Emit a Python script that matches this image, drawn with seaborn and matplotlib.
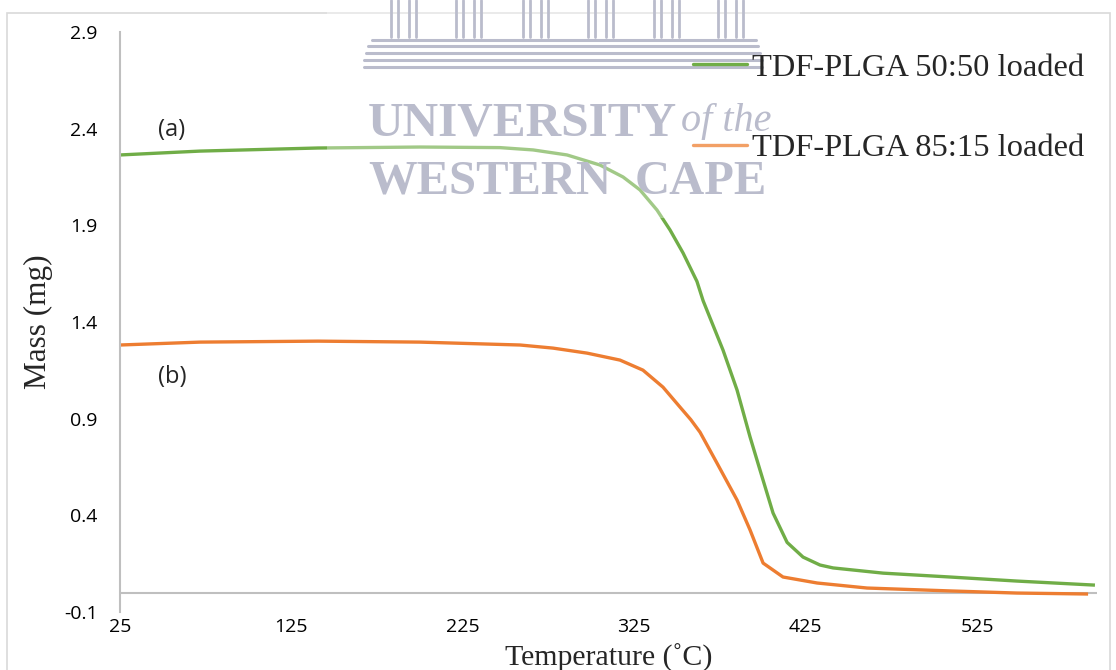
import numpy as np
import pandas as pd
import matplotlib
matplotlib.use("Agg")
import matplotlib.pyplot as plt
import seaborn as sns
from matplotlib.patches import Rectangle
from matplotlib.lines import Line2D

# ---------------- data ----------------
temp_a = [25, 71.7, 140.5, 200, 246.7, 266, 285.8, 305, 318.5, 328.4, 338.3, 345.9,
          353.5, 361.6, 365.2, 376.8, 385, 392.6, 398.4, 406, 414.2, 423.5, 433.4,
          441, 470.2, 509.2, 548.3, 593.8]
mass_a = [2.264, 2.284, 2.300, 2.305, 2.302, 2.290, 2.264, 2.212, 2.150, 2.083, 1.979, 1.876,
          1.757, 1.610, 1.510, 1.255, 1.048, 0.805, 0.634, 0.412, 0.260, 0.184, 0.143,
          0.128, 0.101, 0.081, 0.060, 0.039]

temp_b = [25, 71.7, 140.5, 200, 258.4, 277.6, 297.5, 316.7, 330.1, 341.8, 351.7, 358.0, 363.4,
          373.3, 385.0, 392.6, 400.2, 411.8, 431.7, 460.8, 509.2, 548.3, 589.8]
mass_b = [1.281, 1.296, 1.301, 1.296, 1.281, 1.265, 1.239, 1.203, 1.151, 1.063, 0.960, 0.895, 0.830,
          0.670, 0.479, 0.324, 0.153, 0.081, 0.050, 0.024, 0.009, -0.002, -0.007]

series_names = ["TDF-PLGA 50:50 loaded", "TDF-PLGA 85:15 loaded"]
x_ticks = [25, 125, 225, 325, 425, 525]
y_ticks = [-0.1, 0.4, 0.9, 1.4, 1.9, 2.4, 2.9]
y_tick_labels = ["-0.1", "0.4", "0.9", "1.4", "1.9", "2.4", "2.9"]

df = pd.concat([
    pd.DataFrame({"Temperature": temp_a, "Mass": mass_a, "Sample": series_names[0]}),
    pd.DataFrame({"Temperature": temp_b, "Mass": mass_b, "Sample": series_names[1]}),
])

# ---------------- style ----------------
sns.set_theme(style="white")
plt.rcParams["font.family"] = ["Open Sans", "DejaVu Sans"]
SERIF = ["Liberation Serif", "DejaVu Serif"]

W, H = 1116, 670
fig = plt.figure(figsize=(W / 100, H / 100), dpi=100)
ax = fig.add_axes([120 / W, 1 - 612 / H, (1097 - 120) / W, (612 - 32) / H])

GREEN = "#70AD47"
ORANGE = "#ED7D31"
AXIS_GRAY = "#BFBFBF"
WM = "#BABCCC"

# figure border
fig.patches.append(Rectangle((7 / W, -0.01), (1110 - 7) / W, (1 - 13 / H) + 0.01,
                             transform=fig.transFigure, fill=False,
                             edgecolor="#D9D9D9", linewidth=1.2, zorder=0))

sns.lineplot(data=df, x="Temperature", y="Mass", hue="Sample",
             palette=[GREEN, ORANGE], linewidth=2.4, ax=ax, legend=False,
             sort=False, estimator=None)
for ln in ax.lines:
    ln.set_solid_joinstyle("round")
    ln.set_solid_capstyle("butt")

ax.set_xlim(25, 595)
ax.set_ylim(-0.1, 2.9)
ax.set_xticks(x_ticks)
ax.set_xticklabels([str(t) for t in x_ticks], fontsize=14, color="black")
ax.set_yticks(y_ticks)
ax.set_yticklabels(y_tick_labels, fontsize=14, color="black")
ax.tick_params(axis="both", length=0)
ax.tick_params(axis="y", pad=16)
ax.tick_params(axis="x", pad=4)

for s in ["top", "right", "bottom"]:
    ax.spines[s].set_visible(False)
ax.spines["left"].set_color(AXIS_GRAY)
ax.spines["left"].set_linewidth(1.5)
ax.axhline(0, color=AXIS_GRAY, linewidth=1.5, zorder=1)

ax.set_xlabel("Temperature (˚C)", fontsize=21.5, family=SERIF, labelpad=6)
ax.set_ylabel("Mass (mg)", fontsize=22.5, family=SERIF, labelpad=8)

fig.text(172 / W, 1 - 130 / H, "(a)", fontsize=17, ha="center", va="center")
fig.text(172 / W, 1 - 377 / H, "(b)", fontsize=17, ha="center", va="center")

# watermark (University of the Western Cape), semi-transparent over the plot
fig.patches.append(Rectangle((327 / W, 1 - 218 / H), (800 - 327) / W, 218 / H,
                             transform=fig.transFigure, facecolor="white",
                             edgecolor="none", alpha=0.35, zorder=4))
fig.text(368 / W, 1 - 123 / H, "UNIVERSITY", color=WM, fontsize=35.5, family=SERIF,
         weight="bold", ha="left", va="center", zorder=5)
fig.text(681 / W, 1 - 121 / H, "of the", color=WM, fontsize=29, family=SERIF,
         style="italic", ha="left", va="center", zorder=5)
fig.text(368 / W, 1 - 182 / H, "WESTERN", color=WM, fontsize=35, family=SERIF,
         weight="bold", ha="left", va="center", zorder=5)
fig.text(767 / W, 1 - 182 / H, "CAPE", color=WM, fontsize=35, family=SERIF,
         weight="bold", ha="right", va="center", zorder=5)
for x0 in [390, 455, 522, 587, 653, 717]:
    for dx in [1, 8, 19, 26]:
        fig.add_artist(Line2D([(x0 + dx) / W] * 2, [1 - 37 / H, 1.0],
                              color=WM, linewidth=2.0, zorder=5))
for (xa, xb, yy) in [(372, 756, 40), (368, 758, 46), (366, 760, 53), (364, 762, 60), (364, 762, 67)]:
    fig.add_artist(Line2D([xa / W, xb / W], [1 - yy / H] * 2, color=WM,
                          linewidth=2.2, zorder=5))

# legend
handles = [Line2D([], [], color=GREEN, linewidth=2.4),
           Line2D([], [], color="#F2A066", linewidth=2.4)]
leg = fig.legend(handles, series_names, loc="upper left",
                 bbox_to_anchor=(693 / W, 1 - 53 / H), frameon=False,
                 prop={"family": SERIF, "size": 23.4},
                 handlelength=1.66, handletextpad=0.15, labelspacing=1.55,
                 borderpad=0, borderaxespad=0)
leg.set_zorder(10)

fig.savefig("out.png", dpi=100)
